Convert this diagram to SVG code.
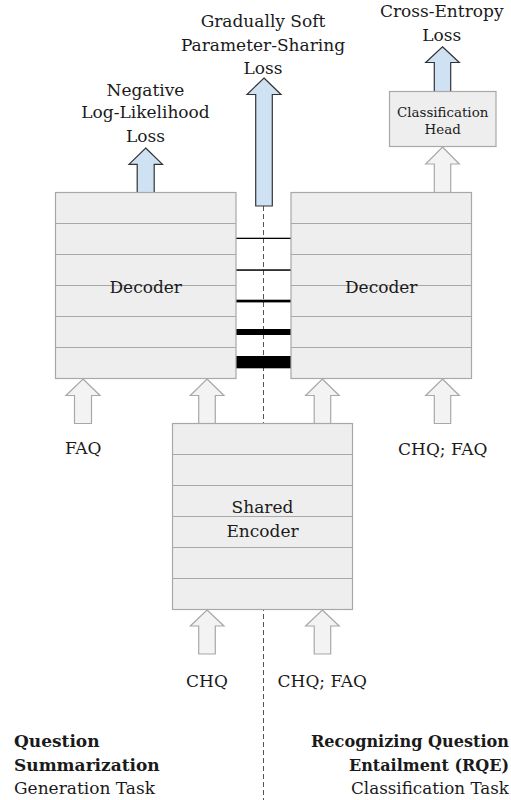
<svg xmlns="http://www.w3.org/2000/svg" width="511" height="800" viewBox="0 0 511 800">
<style>
text{font-family:"DejaVu Serif","Liberation Serif",serif;font-size:17px;fill:#1a1a1a}
.c{text-anchor:middle}
.e{text-anchor:end;font-size:16px}
.b{font-weight:bold}
.sm{font-size:13.4px}
.box{fill:#eeeeee;stroke:#a8a8a8;stroke-width:1.2}
.row{stroke:#a8a8a8;stroke-width:1.2;fill:none}
.ga{fill:#f3f3f3;stroke:#a8a8a8;stroke-width:1.2}
.ba{fill:#cfe2f3;stroke:#333333;stroke-width:1.2}
.dash{stroke:#555555;stroke-width:1;stroke-dasharray:5,3;fill:none}
.bar{fill:#000000}
</style>
<rect width="511" height="800" fill="#ffffff"/>
<g id="connectors">
<line class="dash" x1="263.5" y1="206" x2="263.5" y2="800"/>
<g id="sharing-bars">
<rect class="bar" x="236" y="237.7" width="55" height="1.3"/>
<rect class="bar" x="236" y="269.3" width="55" height="1.5"/>
<rect class="bar" x="236" y="299.7" width="55" height="2.7"/>
<rect class="bar" x="236" y="329" width="55" height="6"/>
<rect class="bar" x="236" y="356" width="55" height="12.3"/>
</g>
<path class="ba" d="M145.7,148 L162.5,164.3 L154.2,164.3 L154.2,192.5 L137.2,192.5 L137.2,164.3 L129,164.3 Z"/>
<path class="ba" d="M264,78 L281,94.5 L272.3,94.5 L272.3,206 L255.7,206 L255.7,94.5 L247,94.5 Z"/>
<path class="ba" d="M442.5,46.7 L459.3,62.5 L450.7,62.5 L450.7,91.5 L434.3,91.5 L434.3,62.5 L425.7,62.5 Z"/>
<path class="ga" d="M442.5,147 L459.3,164 L450.7,164 L450.7,192.5 L434.3,192.5 L434.3,164 L425.7,164 Z"/>
<path class="ga" d="M83,379 L100,395.5 L91.5,395.5 L91.5,423.5 L74.5,423.5 L74.5,395.5 L66,395.5 Z"/>
<path class="ga" d="M207,379 L224,395.5 L215.3,395.5 L215.3,423.5 L198.7,423.5 L198.7,395.5 L190.3,395.5 Z"/>
<path class="ga" d="M322.3,379 L339.2,395.5 L330.7,395.5 L330.7,423.5 L314.2,423.5 L314.2,395.5 L305.6,395.5 Z"/>
<path class="ga" d="M442.5,379 L459.3,395.5 L450.7,395.5 L450.7,423.5 L434.3,423.5 L434.3,395.5 L425.7,395.5 Z"/>
<path class="ga" d="M207,610 L224,626 L215.3,626 L215.3,654 L198.7,654 L198.7,626 L190.3,626 Z"/>
<path class="ga" d="M322.3,610 L339.2,626 L330.7,626 L330.7,654 L314.2,654 L314.2,626 L305.6,626 Z"/>
</g>
<g id="decoder-left">
<rect class="box" x="55.5" y="192.5" width="180.5" height="186"/>
<path class="row" d="M55.5,223.5H236M55.5,254.5H236M55.5,285.5H236M55.5,316.5H236M55.5,347.5H236"/>
<text class="c" x="145.7" y="292.7">Decoder</text>
</g>
<g id="decoder-right">
<rect class="box" x="291" y="192.5" width="180.5" height="186"/>
<path class="row" d="M291,223.5H471.5M291,254.5H471.5M291,285.5H471.5M291,316.5H471.5M291,347.5H471.5"/>
<text class="c" x="381.2" y="292.7">Decoder</text>
</g>
<g id="shared-encoder">
<rect class="box" x="172.5" y="423.5" width="180" height="186"/>
<path class="row" d="M172.5,454.5H352.5M172.5,485.5H352.5M172.5,516.5H352.5M172.5,547.5H352.5M172.5,578.5H352.5"/>
<text class="c" x="262.5" y="513">Shared</text>
<text class="c" x="262.5" y="537">Encoder</text>
</g>
<g id="classification-head">
<rect class="box" x="389.5" y="91.5" width="106.5" height="55"/>
<text class="c sm" x="442.7" y="116.5">Classification</text>
<text class="c sm" x="442.7" y="134">Head</text>
</g>
<g id="label-nll">
<text class="c" x="145.5" y="95.7">Negative</text>
<text class="c" x="145.5" y="118.3">Log-Likelihood</text>
<text class="c" x="145.5" y="141.5">Loss</text>
</g>
<g id="label-gsps">
<text class="c" x="263" y="26.7">Gradually Soft</text>
<text class="c" x="263" y="50.5">Parameter-Sharing</text>
<text class="c" x="263" y="74">Loss</text>
</g>
<g id="label-ce">
<text class="c" x="441.7" y="17.3">Cross-Entropy</text>
<text class="c" x="441.7" y="40.7">Loss</text>
</g>
<g id="inputs">
<text class="c" x="83.3" y="454">FAQ</text>
<text class="c" x="442.8" y="454.5">CHQ; FAQ</text>
<text class="c" x="207" y="687">CHQ</text>
<text class="c" x="322.3" y="687">CHQ; FAQ</text>
</g>
<g id="task-left">
<text class="b" x="14" y="746.7">Question</text>
<text class="b" x="14" y="770.7">Summarization</text>
<text x="14" y="794">Generation Task</text>
</g>
<g id="task-right">
<text class="e b" x="509" y="746.7" textLength="198" lengthAdjust="spacingAndGlyphs">Recognizing Question</text>
<text class="e b" x="509" y="770.7" textLength="160" lengthAdjust="spacingAndGlyphs">Entailment (RQE)</text>
<text class="e" x="509" y="794" textLength="158" lengthAdjust="spacingAndGlyphs">Classification Task</text>
</g>
</svg>
